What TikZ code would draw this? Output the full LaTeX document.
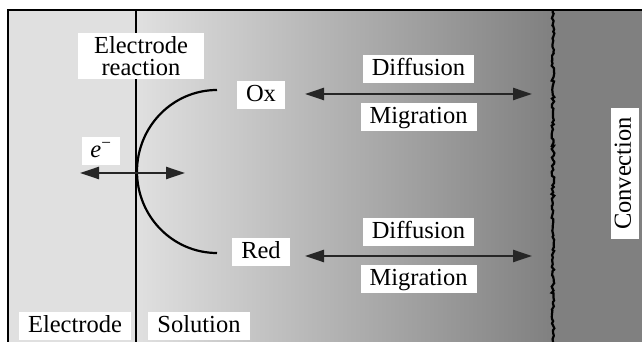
\documentclass[tikz,border=0pt]{standalone}
\usepackage{fontspec}
\setmainfont{Liberation Serif}[Ligatures=TeX]
\usepackage{tikz}
\usetikzlibrary{arrows.meta, decorations.pathmorphing}
\definecolor{elecgray}{HTML}{E0E0E0}
\definecolor{deepgray}{HTML}{808080}

\begin{document}
\begin{tikzpicture}[x=1pt, y=1pt,
  whitebox/.style={fill=white, inner xsep=9pt, inner ysep=3pt, font=\fontsize{24.5}{22}\selectfont},
  label/.style={whitebox, inner ysep=0pt, text height=17.5pt, text depth=5pt, minimum height=28pt},
  arrow/.style={{Triangle[length=19pt,width=12pt]}-{Triangle[length=19pt,width=12pt]}, line width=2.4pt, black!85},
  wall/.style={line width=1.4pt}
]
\useasboundingbox (0,0) rectangle (642,342);

% regions
\fill[elecgray] (8,0) rectangle (136,332);
\shade[left color=elecgray, right color=deepgray] (136,0) rectangle (553,332);
\fill[deepgray] (553,0) rectangle (642,332);

% frame and boundaries
\draw[line width=1.2pt] (8,0) -- (8,332) -- (642,332);
\draw[wall] (136,0) -- (136,332);
\draw[line width=2.2pt, decorate, decoration={random steps, segment length=2.5pt, amplitude=1.4pt}] (553,0) -- (553,332);

% electrode reaction
\draw[line width=2.2pt] (217,252) arc[start angle=90, end angle=270, x radius=80, y radius=81.5];

\node[whitebox, align=center, inner xsep=16pt] (react) at (141,286) {Electrode\\reaction};
\node[label] (ox) at (261,246.5) {Ox};
\node[label] (red) at (261,90) {Red};
\node[label] (elec) at (75,16) {Electrode};
\node[label] (sol) at (199,16) {Solution};
\node[label, inner xsep=8pt] (elt) at (101,191) {\textit{e}\textsuperscript{−}};

\node[label] (diff1) at (418.5,273) {Diffusion};
\node[label] (migr1) at (418.5,224.5) {Migration};
\node[label] (diff2) at (418.5,109.5) {Diffusion};
\node[label] (migr2) at (418.5,63) {Migration};
\node[label, rotate=90] (conv) at (624.5,168.5) {Convection};

% transport
\coordinate (el) at (80,169);
\coordinate (er) at (185,169);
\coordinate (oxl) at (305,248);
\coordinate (oxr) at (532,248);
\coordinate (redl) at (305,86);
\coordinate (redr) at (532,86);

\draw[arrow] (el) -- (er);
\draw[arrow] (oxl) -- (oxr);
\draw[arrow] (redl) -- (redr);
\end{tikzpicture}
\end{document}
